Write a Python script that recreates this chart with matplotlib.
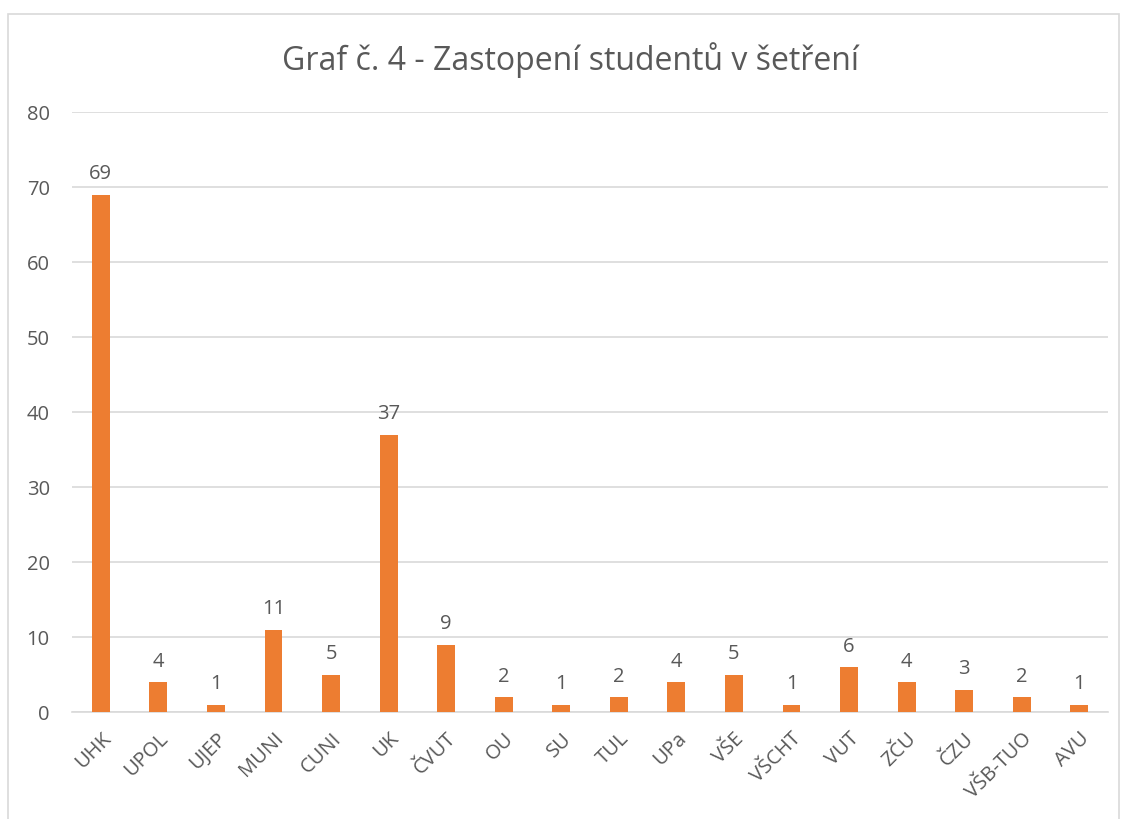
import matplotlib.pyplot as plt
from matplotlib.patches import Rectangle

plt.rcParams['font.family'] = ['Open Sans', 'DejaVu Sans']

schools = ['UHK', 'UPOL', 'UJEP', 'MUNI', 'CUNI', 'UK', 'ČVUT', 'OU', 'SU', 'TUL',
           'UPa', 'VŠE', 'VŠCHT', 'VUT', 'ZČU', 'ČZU', 'VŠB-TUO', 'AVU']
counts = [69, 4, 1, 11, 5, 37, 9, 2, 1, 2, 4, 5, 1, 6, 4, 3, 2, 1]
y_ticks = [0, 10, 20, 30, 40, 50, 60, 70, 80]

text_col = '#595959'
bar_col = '#ED7D31'
grid_col = '#D9D9D9'

fig = plt.figure(figsize=(11.25, 8.19), dpi=100)
ax = fig.add_axes((0.064, 0.1306, 0.921, 0.7326))

# chart frame like an Excel chart area
fig.patches.append(Rectangle((8 / 1125, -0.05), 1111 / 1125, 1.05 - 14 / 819,
                             transform=fig.transFigure, fill=False,
                             edgecolor=grid_col, linewidth=1.2))

x = range(len(schools))
bars = ax.bar(x, counts, width=0.31, color=bar_col, zorder=3)
for b, v in zip(bars, counts):
    ax.text(b.get_x() + b.get_width() / 2, v + 1.4, str(v), ha='center', va='bottom',
            fontsize=14.5, color=text_col)

ax.set_xlim(-0.5, len(schools) - 0.5)
ax.set_ylim(0, 80)
ax.set_yticks(y_ticks)
ax.yaxis.grid(True, color=grid_col, linewidth=1.2, zorder=0)
ax.set_xticks(list(x))
ax.set_xticklabels(schools, rotation=45, ha='right', rotation_mode='anchor')
ax.tick_params(axis='both', length=0, labelsize=14.5, labelcolor=text_col)
ax.tick_params(axis='y', pad=16)
ax.tick_params(axis='x', pad=12)
for s in ['top', 'right', 'left']:
    ax.spines[s].set_visible(False)
ax.spines['bottom'].set_color(grid_col)
ax.spines['bottom'].set_linewidth(1.2)

fig.text(0.507, 0.927, 'Graf č. 4 - Zastopení studentů v šetření', ha='center', va='center',
         fontsize=23, color=text_col)

fig.savefig('out.png', dpi=100)
